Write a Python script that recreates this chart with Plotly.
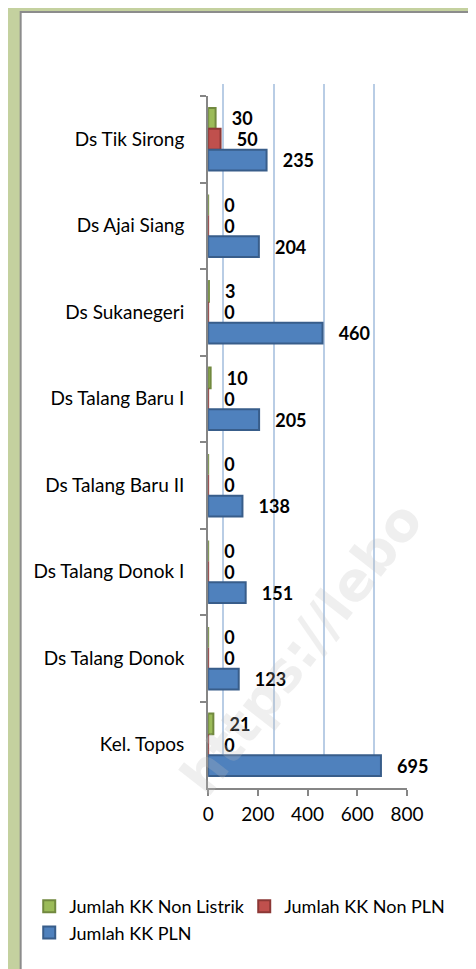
import plotly.graph_objects as go

categories = ["Ds Tik Sirong", "Ds Ajai Siang", "Ds Sukanegeri", "Ds Talang Baru I",
              "Ds Talang Baru II", "Ds Talang Donok I", "Ds Talang Donok", "Kel. Topos"]
non_listrik = [30, 0, 3, 10, 0, 0, 0, 21]
non_pln = [50, 0, 0, 0, 0, 0, 0, 0]
pln = [235, 204, 460, 205, 138, 151, 123, 695]
x_ticks = [0, 200, 400, 600, 800]

series = [
    ("Jumlah KK Non Listrik", non_listrik, "#9BBB59", "#71893F"),
    ("Jumlah KK Non PLN", non_pln, "#C0504D", "#8C3836"),
    ("Jumlah KK PLN", pln, "#4F81BD", "#385D8A"),
]

W, H = 476, 969
FONT = "Lato"

fig = go.Figure()

# back wall grid (3D look) on subplot x/y
fig.add_trace(go.Scatter(x=[0], y=[0], mode="markers", marker=dict(opacity=0),
                         showlegend=False, hoverinfo="skip", xaxis="x", yaxis="y"))

for name, vals, col, dark in series:
    fig.add_trace(go.Bar(
        name=name, y=categories, x=vals, orientation="h",
        marker=dict(color=col, line=dict(color=dark, width=2)),
        text=vals, texttemplate="   %{x}", textposition="outside",
        constraintext="none", cliponaxis=False,
        textfont=dict(family=FONT, size=18, color="black", weight="bold"),
        outsidetextfont=dict(family=FONT, size=18, color="black", weight="bold"),
        xaxis="x2", yaxis="y2",
    ))

def px(v):
    return v / W

def py(v):
    return 1 - v / H

fig.update_layout(
    width=W, height=H,
    margin=dict(l=0, r=0, t=0, b=0),
    paper_bgcolor="#C4D19F",
    plot_bgcolor="rgba(0,0,0,0)",
    font=dict(family=FONT, size=16, color="black"),
    barmode="group", bargap=0.28, bargroupgap=0,
    xaxis=dict(domain=[px(220), px(431)], range=[0, 800], tickvals=x_ticks,
               showticklabels=False, showgrid=True, gridcolor="#B9CDE5", gridwidth=2,
               zeroline=True, zerolinecolor="#B9CDE5", zerolinewidth=2,
               showline=False, ticks="", fixedrange=True),
    yaxis=dict(domain=[py(768), py(76)], range=[0, 1], showticklabels=False,
               showgrid=False, zeroline=False, showline=False, ticks=""),
    xaxis2=dict(domain=[px(204), px(413)], range=[0, 800], tickvals=x_ticks,
                anchor="y2", showgrid=False, zeroline=False,
                showline=True, linecolor="#868686", linewidth=2,
                ticks="outside", ticklen=6, tickcolor="#868686", tickwidth=2,
                tickfont=dict(family=FONT, size=19), ticklabelstandoff=2),
    yaxis2=dict(domain=[py(780), py(88)], anchor="x2", type="category",
                categoryorder="array", categoryarray=categories, autorange="reversed",
                showline=True, linecolor="#868686", linewidth=2,
                ticks="outside", ticklen=6, tickcolor="#868686", tickwidth=2,
                tickson="boundaries", showgrid=False, ticklabelstandoff=18,
                tickfont=dict(family=FONT, size=19)),
    legend=dict(orientation="h", x=px(16), y=py(880), xanchor="left", yanchor="top",
                font=dict(family=FONT, size=18), bgcolor="rgba(0,0,0,0)",
                traceorder="normal", entrywidth=170, entrywidthmode="pixels"),
    shapes=[dict(type="rect", xref="paper", yref="paper", x0=px(7), x1=1.05,
                 y0=-0.05, y1=py(4), fillcolor="white",
                 line=dict(color="#8C8C8C", width=2), layer="below")],
    annotations=[dict(text="https://lebo", xref="paper", yref="paper",
                      x=px(445), y=py(640), showarrow=False, textangle=-52,
                      font=dict(family="DejaVu Sans", size=54, color="rgba(190,190,190,0.25)",
                                weight="bold"))],
)

fig.write_html("out.html")
